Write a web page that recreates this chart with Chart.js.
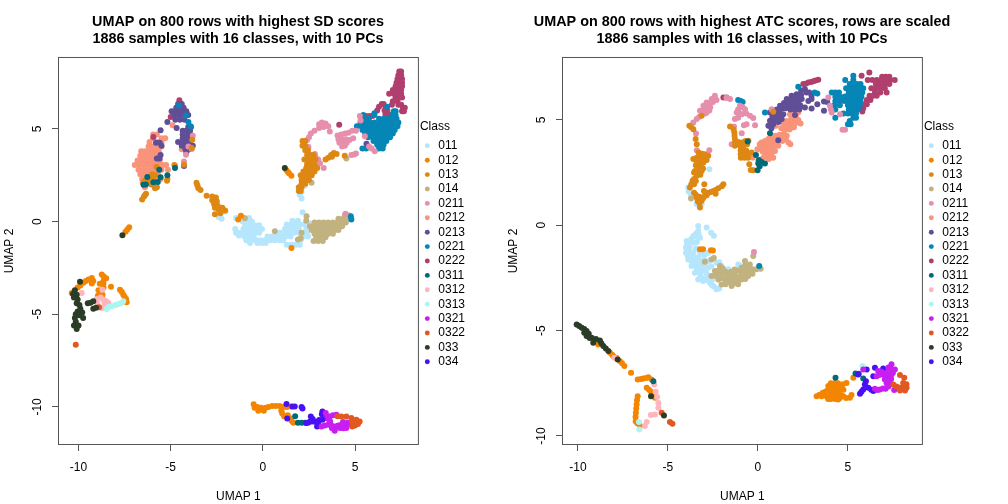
<!DOCTYPE html>
<html>
<head>
    <title>UMAP plots</title>
    <style>
        body { margin: 0; background: white; width: 1008px; height: 504px; overflow: hidden; display: flex; }
        canvas { display: block; }
    </style>
</head>
<body>
    <canvas id="sdChart" width="504" height="504"></canvas>
    <canvas id="atcChart" width="504" height="504"></canvas>

    <script src="https://cdn.jsdelivr.net/npm/chart.js"></script>
    <script>
        const classes = ['011', '012', '013', '014', '0211', '0212', '0213', '0221', '0222', '0311', '0312', '0313', '0321', '0322', '033', '034'];
        const classColors = ['#b6e6fd', '#f48500', '#de8814', '#c2b280', '#e68fac', '#f99379', '#604e97', '#0586b6', '#b03f6e', '#006a78', '#ffb5bd', '#adf5ef', '#c81ff0', '#e25822', '#2b3d26', '#4a10f5'];
        // bottom layer first
        const drawRank = ['011', '014', '0212', '0222', '0213', '0221', '0211', '013', '012', '0312', '0313', '0311', '034', '0321', '0322', '033'];

        const xTicksLeft = [-10, -5, 0, 5];
        const yTicksLeft = [-10, -5, 0, 5];
        const xTicksRight = [-10, -5, 0, 5];
        const yTicksRight = [-10, -5, 0, 5];

        const xRangeLeft = [-11.06, 8.41];
        const yRangeLeft = [-12.0, 8.83];
        const xRangeRight = [-10.83, 9.11];
        const yRangeRight = [-10.38, 7.94];

        // left panel
        const sd011 = [[-2.02,.54],[-2.24,.15],[-2.4,.25],[-1.42,-.6],[-1.3,-.75],[-1.46,.2],[-1,.2],[-.75,.2],[-1.1,0],[-.85,0],[-.6,0],[-.95,-.2],[-.7,-.2],[-.45,-.2],[-.2,-.2],[-1.5,-.4],[-1.05,-.4],[-.8,-.4],[-.55,-.4],[-.3,-.4],[-.05,-.4],[1.2,-.4],[1.45,-.4],[1.7,-.4],[1.95,-.4],[2.35,-.4],[1.3,-.15],[1.55,-.15],[1.8,-.15],[2.05,-.15],[2.3,-.15],[2.55,-.1],[1.6,.05],[1.9,.05],[-1.45,-.6],[-1.2,-.6],[-.95,-.6],[-.7,-.6],[-.45,-.6],[-.2,-.6],[.95,-.6],[1.2,-.6],[1.45,-.6],[1.7,-.6],[1.95,-.6],[2.4,-.6],[-1,-.8],[-.75,-.8],[-.5,-.8],[.25,-.8],[.5,-.8],[.75,-.8],[1,-.8],[1.25,-.8],[1.5,-.8],[2.2,-.8],[2.45,-.8],[-.9,-1],[-.6,-1],[-.35,-1],[-.1,-1],[.15,-1],[.4,-1],[.65,-1],[.9,-1],[1.1,-1],[2.05,-1],[-.7,-1.15],[-.3,-1.15],[-.05,-1.15],[.15,-1.15],[1.3,-1.25],[1.55,-1.25],[1.8,-1.25],[2,-1.25],[2.15,.5],[2.28,1.94],[2.1,1.6],[2,1.45],[2.1,1.25]];
        const sd012 = [[-7.25,-.3],[-7.35,-.42],[-7.45,-.55],[-10.37,-3.85],[-10.05,-3.55],[-9.9,-3.45],[-9.74,-3.3],[-9.6,-3.2],[-9.46,-3.13],[-9.28,-3.04],[-9.2,-3.2],[-9.28,-3.34],[-8.74,-2.86],[-8.65,-2.95],[-8.5,-3.05],[-8.65,-3.2],[-8.65,-3.35],[-8.85,-3.35],[-8.24,-3.52],[-8.92,-3.7],[-8.65,-3.55],[-8.95,-4],[-8.83,-4.05],[-8.7,-3.95],[-7.75,-3.67],[-7.65,-3.8],[-7.57,-3.94],[-7.5,-4.05],[-7.42,-4.17],[-7.39,-4.35],[1.28,2.77],[1.36,2.68],[1.43,2.59],[1.55,2.48],[-1.19,.32],[-1.34,.11],[1.55,-1.42],[-.5,-9.85],[-.45,-10.05],[-.3,-10],[-.25,-10.2],[-.1,-10.05],[.05,-10.2],[.15,-10.05],[.3,-10],[.5,-9.95],[.7,-9.95],[.9,-9.95],[1.1,-10],[1.3,-10],[1.5,-9.98],[1,-10.2],[1.05,-10.35],[1.15,-10.5],[1.35,-10.45],[1.45,-10.6],[1.55,-10.75],[1.65,-10.85]];
        const sd013 = [[-3.83,4.42],[-3.86,3.97],[-4.77,3.02],[-5.76,2.95],[-6,2.55],[-5.85,2.5],[-6.1,2.4],[-5.95,2.3],[-6.2,2.1],[-6.05,2],[-5.9,1.95],[-5.75,1.85],[-5.85,1.8],[-5.18,2.3],[-5.2,2.2],[-4.8,3.05],[-6.4,2.2],[-6.5,2.1],[-4.28,3.07],[-6.34,1.5],[-6.45,1.35],[-6.55,1.2],[-6.4,1.42],[-3.6,2.1],[-3.55,1.95],[-3.5,1.8],[-3.38,1.7],[-3.05,1.4],[-2.75,1.35],[-2.55,1.3],[-2.75,1.15],[-2.5,1.1],[-2.65,.95],[-2.45,.85],[-2.6,.75],[-2.4,.65],[-2.2,.75],[-2.05,.6],[-2.6,.4],[-2.3,.45],[2.15,4.35],[2.3,4.35],[2.15,4.1],[2.3,4.1],[2.3,3.85],[2.45,3.85],[2.4,3.6],[2.6,3.6],[2.75,3.6],[2.25,3.35],[2.45,3.35],[2.65,3.35],[2.85,3.35],[2.4,3.1],[2.6,3.1],[2.8,3.1],[2.35,2.9],[2.55,2.9],[2.75,2.9],[2.95,2.9],[2.2,2.7],[2.4,2.7],[2.6,2.7],[2.8,2.7],[2.05,2.5],[2.25,2.5],[2.45,2.5],[2.65,2.5],[2.1,2.25],[2.3,2.25],[2.5,2.25],[2.1,2.05],[2.3,2.05],[1.95,1.85],[2.1,1.85],[1.95,1.65],[2.05,1.65],[3.4,3.35],[3.55,3.45],[3.7,3.6],[3.85,3.7],[4,3.65],[3.75,3.5],[4.44,3.55]];
        const sd014 = [[4.53,3.4],[2.64,2.1],[2.37,.29],[2.35,.05],[4.45,.35],[4.65,.35],[4.1,.15],[4.35,.15],[4.6,.15],[2.8,-.05],[3.05,-.05],[3.3,-.05],[3.55,-.05],[3.8,-.05],[4.05,-.05],[4.3,-.05],[4.5,-.05],[2.55,-.25],[2.8,-.25],[3.05,-.25],[3.3,-.25],[3.55,-.25],[3.8,-.25],[4.05,-.25],[4.3,-.25],[2.65,-.45],[2.9,-.45],[3.15,-.45],[3.4,-.45],[3.65,-.45],[3.9,-.45],[4.1,-.45],[2.8,-.65],[3.05,-.65],[3.3,-.65],[3.55,-.65],[3.8,-.65],[2.9,-.85],[3.15,-.85],[3.4,-.85],[2.75,-1.05],[3,-1.05],[3.25,-1.05],[2.1,-.6],[1.9,-.97],[2.05,-.9],[.65,-.52],[-.98,.18]];
        const sd0211 = [[-3.8,4.64],[-4.04,4.06],[-4.17,3.61],[-4.28,3.25],[-3.86,3.92],[3.05,5.25],[3.2,5.35],[3.4,5.3],[3.55,5.15],[3.3,5.1],[3.05,5.05],[2.8,4.9],[2.6,4.75],[2.5,4.55],[2.4,4.4],[3.63,4.86],[4.05,4.65],[4.25,4.7],[4.45,4.75],[4.65,4.8],[4.85,4.9],[5.05,4.9],[4.1,4.45],[4.3,4.45],[4.5,4.45],[4.7,4.4],[4.9,4.5],[4.15,4.25],[4.35,4.25],[4.55,4.25],[4.3,4.05],[4.45,4.1],[5.26,5.7],[5.3,5.45],[4.8,3.6],[5.05,3.67],[4.95,3.62],[5.53,4.6],[5.76,4.05],[5.9,3.95],[6.07,3.8],[2.47,4.03],[2.82,3.65],[2.85,3.5],[3,3.35],[3.1,3.15],[3.3,2.9],[4.48,.43]];
        const sd0212 = [[-5.95,4.7],[-5.75,4.7],[-5.95,4.5],[-5.5,4.5],[-5.3,4.5],[-6.15,4.3],[-5.7,4.3],[-5.5,4.3],[-6.2,4.05],[-6,4.05],[-5.75,4.05],[-5.5,4.05],[-6.6,3.8],[-6.4,3.8],[-6.15,3.8],[-5.9,3.8],[-5.65,3.8],[-6.65,3.55],[-6.4,3.55],[-6.15,3.55],[-5.95,3.55],[-5.75,3.55],[-6.8,3.3],[-6.55,3.3],[-6.3,3.3],[-6.05,3.3],[-5.8,3.3],[-5.6,3.3],[-6.95,3.05],[-6.7,3.05],[-6.45,3.05],[-6.2,3.05],[-5.95,3.05],[-5.7,3.05],[-5.45,3.05],[-5.25,3.05],[-6.75,2.8],[-6.5,2.8],[-6.25,2.8],[-6,2.8],[-5.75,2.8],[-5.5,2.8],[-5.15,2.8],[-6.65,2.55],[-6.4,2.55],[-6.15,2.55],[-5.95,2.55],[-5.7,2.55],[-6.55,2.3],[-6.3,2.3],[-5.85,2.3],[-5.55,2.3],[-6.4,2.05],[-5.85,2.05],[-6.4,1.85],[-4.9,5.2],[-4.4,3.9]];
        const sd0213 = [[-4.6,6.35],[-4.4,6.35],[-4.7,6.15],[-4.5,6.15],[-4.3,6.15],[-4.95,5.95],[-4.7,5.95],[-4.5,5.95],[-4.3,5.95],[-4.15,5.95],[-4.8,5.75],[-4.55,5.75],[-4.3,5.75],[-4.05,5.75],[-4.75,5.5],[-4.5,5.5],[-4.25,5.5],[-5.18,5.38],[-4.68,5.05],[-4.05,5.1],[-3.9,5.1],[-4.35,4.9],[-4.15,4.9],[-3.95,4.9],[-4.35,4.7],[-4.15,4.7],[-3.95,4.7],[-4.35,4.5],[-4.15,4.5],[-3.95,4.5],[-4.6,4.3],[-4.35,4.3],[-4.15,4.3],[-3.95,4.3],[-4.4,4.1],[-4.2,4.1],[-3.8,4.1],[-4.2,3.9],[-4,3.9],[-4.15,3.75],[-4.28,3],[-5.55,4.93],[-5.8,4.25],[-5.6,4.25],[-5.5,4.1],[-5.55,3.6],[-5.75,3.4],[-5.6,3.4],[6.07,4.6],[5.62,4.2]];
        const sd0221 = [[-4.55,6.26],[-4.17,5.72],[-4.04,5.38],[-3.92,5.14],[6.05,5.85],[6.74,6.2],[7.1,5.95],[7.2,5.95],[5.45,5.75],[6.05,5.75],[7,5.75],[7.2,5.75],[5.5,5.55],[5.75,5.55],[6.3,5.55],[6.55,5.55],[6.8,5.55],[7.05,5.55],[7.25,5.55],[5.3,5.35],[5.55,5.35],[5.8,5.35],[6.05,5.35],[6.3,5.35],[6.55,5.35],[6.8,5.35],[7.05,5.35],[7.35,5.35],[5.1,5.15],[5.35,5.15],[5.6,5.15],[5.85,5.15],[6.1,5.15],[6.35,5.15],[6.6,5.15],[6.85,5.15],[7.1,5.15],[7.3,5.15],[5.4,4.95],[5.65,4.95],[5.9,4.95],[6.15,4.95],[6.4,4.95],[6.65,4.95],[6.9,4.95],[7.15,4.95],[5.55,4.75],[5.8,4.75],[6.05,4.75],[6.3,4.75],[6.55,4.75],[6.8,4.75],[7.05,4.75],[5.7,4.55],[5.95,4.55],[6.2,4.55],[6.45,4.55],[6.7,4.55],[6.9,4.55],[6,4.35],[6.25,4.35],[6.5,4.35],[6.7,4.35],[6.2,4.15],[6.45,4.15],[6.55,4.15],[5.4,3.95],[5.6,3.95],[6.3,3.95],[6.5,3.95],[4.77,.29],[4.8,.11]];
        const sd0222 = [[-4.53,6.55],[-4.71,6],[-5,5.65],[-5.94,4.57],[7.4,8.1],[7.5,8.1],[7.35,7.9],[7.5,7.9],[7.3,7.7],[7.45,7.7],[7.55,7.7],[7.25,7.5],[7.4,7.5],[7.55,7.5],[7.2,7.3],[7.35,7.3],[7.55,7.3],[7.05,7.1],[7.2,7.1],[7.35,7.1],[7.5,7.1],[6.85,6.9],[7.1,6.9],[7.3,6.9],[7.5,6.9],[7.2,6.7],[7.4,6.7],[7.55,6.7],[7.05,6.5],[7.3,6.5],[7,6.3],[7.35,6.3],[7.5,6.3],[7.6,6.15],[7.7,6.15],[7.55,5.95],[7.65,5.95],[6.45,6.35],[6.55,6.35],[6.3,6.2],[6.65,6.2],[6.2,6],[6.75,6],[6.6,6],[6.65,5.8],[6.8,5.8],[5.6,5.7],[5.8,5.7],[5.95,5.7],[4.14,5.23]];
        const sd0311 = [[-4.77,2.9],[-5.62,2.8],[-5.18,2.5],[-5.55,2.39],[-6.27,2.41],[-6.48,1.99],[-6.35,2],[-5.7,2.14],[-5.94,2.12],[1.75,-10.5],[1.9,-10.85],[2.1,-10.85],[2.3,-10.85],[2.45,-10.85]];
        const sd0312 = [[-9.83,-3.85],[-8.7,-3.67],[-9.01,-4.17],[-8.8,-4.1],[-8.65,-4.21],[-8.5,-4.3],[-8.38,-4.39],[-8.98,-4.39],[-8.74,-4.66],[-8.6,-4.45]];
        const sd0313 = [[-8.47,-4.71],[-8.35,-4.6],[-8.2,-4.57],[-8,-4.5],[-7.84,-4.44],[-7.7,-4.4],[-7.57,-4.3]];
        const sd0321 = [[3.41,-10.33],[3.5,-10.5],[3.63,-10.51],[3.8,-10.45],[3.99,-10.42],[3.18,-11.05],[3.35,-11],[3.54,-10.96],[3.72,-11],[3.9,-11.05],[4.08,-11],[4.26,-10.96],[4.45,-10.96],[4.62,-10.96],[3.9,-11.28],[3.75,-11.15],[4.17,-11.14],[4.53,-11.14],[4.35,-11.15],[3.65,-10.78],[3.55,-10.65],[4.35,-10.81],[4.6,-10.85]];
        const sd0322 = [[-8.89,-4.62],[-10.15,-6.64],[4.05,-10.5],[4.26,-10.51],[4.53,-10.51],[4.8,-10.6],[5.07,-10.69],[5.25,-10.78],[5.16,-10.92],[5,-11],[4.85,-11.05],[4.85,-10.8]];
        const sd033 = [[-7.62,-.74],[1.19,2.9],[-10.2,-3.7],[-10.3,-3.9],[-10.1,-3.95],[-10.25,-4.1],[-10.05,-4.2],[-10.1,-4.4],[-9.95,-4.5],[-9.9,-4.7],[-10.05,-4.85],[-9.8,-4.9],[-10.15,-5],[-9.95,-5.05],[-9.75,-5.2],[-10.2,-5.2],[-10.15,-5.4],[-10.25,-5.6],[-10.1,-5.8],[-10,-5.6],[-9.92,-3.25],[-9.5,-4.4],[-9.35,-4.38],[-9.2,-4.3],[-9.2,-4.7],[-9.05,-4.65]];
        const sd034 = [[1.73,-9.97],[1.6,-9.98],[2.15,-10.09],[2.1,-10],[1.28,-9.84],[1.32,-10.63],[2.6,-10.51],[2.7,-10.65],[2.72,-10.78],[2.55,-10.8],[2.36,-10.87],[2.85,-10.8],[3,-10.87],[3.23,-10.24],[3.2,-10.4],[3.23,-10.69],[3.05,-10.7],[3.45,-10.6],[2.94,-11.05]];

        // right panel
        const atc011 = [[-2.7,2.66],[-3.87,1.79],[-3.85,1.6],[-3.72,1.45],[-3.4,1],[-3.13,1],[-3.32,-.03],[-3.32,-.27],[-2.85,-.11],[-2.6,-.35],[-2.45,-.5],[-3.59,-.51],[-3.4,-.55],[-3.22,-.59],[-3.96,-.75],[-3.75,-.8],[-3.59,-.83],[-3.4,-.8],[-4,-1.06],[-3.8,-1.05],[-4,-1.3],[-3.78,-1.3],[-3.6,-1.3],[-3.87,-1.62],[-3.7,-1.55],[-3.5,-1.54],[-3.3,-1.5],[-3.13,-1.38],[-2.95,-1.4],[-2.76,-1.3],[-3.69,-1.93],[-3.5,-1.9],[-3.32,-1.86],[-3.13,-1.85],[-2.94,-1.86],[-2.75,-1.7],[-3.5,-2.25],[-3.3,-2.2],[-3.13,-2.17],[-2.95,-2.15],[-2.76,-2.01],[-2.6,-1.95],[-2.3,-1.78],[-2.02,-1.93],[-2.15,-1.75],[-3.32,-2.57],[-3.1,-2.5],[-2.94,-2.57],[-2.75,-2.45],[-2.67,-2.73],[-2.45,-2.9],[-2.3,-3.04],[-2.15,-3],[-1.65,-2.09],[-1.09,-1.86],[-.95,-1.95],[-3.95,-.95],[-3.9,-1.45],[-3.7,-1.7],[-3.4,-1.7],[-3.2,-1.7],[-3,-1.65],[-3.4,-2.05],[-3.2,-2.05],[-3,-2],[-2.85,-2.3],[-3.2,-2.35],[-3.45,-1.1],[-3.25,-1.25],[-3.05,-2.65],[-2.85,-2.6],[-2.55,-2.6],[-2.55,-2.85],[-3.7,-.65],[-3.45,-.4],[-3.3,-.4]];
        const atc012 = [[-3.22,-1.14],[-3.05,-1.14],[-2.61,-1.19],[-2.5,-1.2],[-8.87,-5.66],[-8.22,-6.05],[-8.1,-6.15],[-8.03,-6.21],[-7.85,-6.3],[-7.66,-6.45],[-7.55,-6.55],[-7.42,-6.68],[-7.05,-7],[-6.68,-7.32],[-6.5,-7.3],[-6.37,-7.27],[-6.2,-7.25],[-6.09,-7.21],[-5.91,-7.32],[-6.18,-7.71],[-6.05,-7.8],[-5.94,-7.9],[-5.85,-8.05],[-5.72,-8.19],[-6.68,-8.11],[-6.72,-8.3],[-6.74,-8.5],[-6.76,-8.7],[-6.78,-8.9],[-6.8,-9.1],[-6.79,-9.3],[-6.7,-9.4],[-6.55,-9.53],[3.26,-8.11],[3.4,-8.05],[3.54,-8.11],[3.7,-8.05],[3.81,-8.11],[4,-8.05],[4,-7.87],[3.85,-7.85],[3.91,-7.63],[4.1,-7.65],[4.28,-7.48],[4.28,-7.79],[4.15,-7.9],[4.45,-7.85],[4.55,-7.63],[4.72,-7.55],[4.92,-7.48],[4.18,-8.19],[4.3,-8.05],[4.46,-8.27],[4.6,-8.05],[4.74,-8.11],[5.3,-7.24],[5.11,-8.19],[5.2,-8.05],[3.6,-7.95],[3.75,-7.9],[4.05,-7.5],[4.45,-7.5],[4.4,-7.65],[4.15,-7.7],[4.6,-7.75],[4.75,-7.8],[3.9,-8.25],[4.05,-8.25],[4.55,-8.2],[4.9,-8.2],[4.3,-8.25]];
        const atc013 = [[-3.81,4.72],[-3.7,4.65],[-3.59,4.56],[-3.46,4.09],[-3.4,3.85],[-1.55,4.69],[-1.35,4.55],[-1.31,4.4],[-1.3,4.25],[-1.28,4.09],[-1.28,3.9],[-1.28,3.77],[-1.1,3.85],[-.9,3.93],[-.7,4],[-.53,4.01],[-.81,3.61],[-.96,3.55],[-.96,3.37],[-.8,3.4],[-.63,3.37],[-.5,3.4],[-.35,3.45],[-.48,2.9],[-.26,2.61],[-.4,2.62],[-2.94,3.37],[-3.22,3.3],[-3.4,3.2],[-3.59,3.14],[-2.76,3.3],[-3.1,3.15],[-3.31,2.9],[-3.15,2.95],[-3.03,2.98],[-2.85,3.1],[-3.5,2.58],[-3.3,2.65],[-3.13,2.58],[-3.4,2.35],[-3.2,2.4],[-3.55,2.2],[-3.63,2.11],[-3.7,1.95],[-3.78,1.79],[-2.98,1.95],[-1.92,1.95],[-2,1.85],[-2.2,1.76],[-2.35,1.68],[-2.48,1.63],[-2.62,1.58],[-2.76,1.55],[-3,1.63],[-2.85,1.42],[-2.94,1.4],[-3.05,1.28],[-3.13,1.16],[-3.4,1.32],[-3.25,1.35],[-3.55,1.55],[-3.22,.84],[.85,5.39],[-3.13,5.2],[-3.55,2.5],[-3.4,2.55],[-3.3,2.45],[-3.05,2.7],[-3.2,2.8],[-3.45,2.85],[-3.45,3.1],[-3.2,3],[-3,3.25],[-3.3,3.45],[-3.1,3.4],[-3.55,1.95],[-3.45,2.1],[-.95,3.2],[-.75,3.2],[-.55,3.2],[-1.1,3.95],[-.8,3.8],[-.6,3.85],[-.65,3.55],[-.95,3.7],[-2.9,1.55],[-2.35,1.5],[-3.25,1.05],[-3.35,1.15],[-3.45,1.45]];
        const atc014 = [[-3.72,1.27],[-2.58,-1.62],[-2.45,-1.55],[-2.95,-1.73],[-.72,-1.7],[-.45,-1.86],[-.7,-1.9],[-.91,-2.01],[-.54,-2.09],[-.3,-2.09],[-.08,-2.09],[.15,-2.06],[-1.28,-2.25],[-1.1,-2.15],[-.91,-2.33],[-.7,-2.25],[-.54,-2.41],[-.3,-2.3],[-1.56,-2.41],[-1.35,-2.4],[-1.28,-2.57],[-1.1,-2.45],[-.91,-2.57],[-.7,-2.55],[-2.11,-1.93],[-1.95,-2.05],[-2.39,-2.17],[-2.2,-2.15],[-2.02,-2.25],[-1.8,-2.2],[-2.58,-2.41],[-2.38,-2.4],[-2.2,-2.57],[-2,-2.5],[-1.83,-2.57],[-1.65,-2.6],[-2.02,-2.81],[-1.8,-2.8],[-1.46,-2.88],[-1.3,-2.75],[-1.1,-2.8],[-.26,-1.46],[-1.5,-2.2],[-1.3,-2.1],[-.95,-2.15],[-.75,-2.05],[-.45,-2.2],[-.55,-1.9],[-1.6,-2.7],[-1.15,-2.65],[-.75,-2.4],[-1.45,-2.6],[-1.75,-2.4],[-2.15,-2.35]];
        const atc0211 = [[-2.39,6.15],[-2.57,5.99],[-2.3,5.95],[-2.85,5.83],[-2.65,5.8],[-3.03,5.67],[-2.65,5.6],[-2.85,5.6],[-3.22,5.43],[-3.05,5.45],[-2.94,5.3],[-3.4,5.04],[-3.25,5.15],[-3.59,4.88],[-1.55,5.99],[-1.75,6.05],[-1,5.67],[-.85,5.6],[-1.1,5.5],[-.72,5.51],[-1.18,5.35],[-1,5.3],[-.9,5.27],[-.65,5.3],[-.44,5.2],[-1.28,5.04],[-1.1,5.1],[-.26,5.09],[-.63,4.8],[-.78,4.75],[-.16,4.75],[-1.33,4.69],[-.9,4.37],[-3.44,4.36],[-3.4,3.56],[-2.7,3.56],[-1.46,3.85],[-3.26,2.95],[3.91,6.07],[4,5.67],[4.05,5.5],[4.1,5.35],[4.56,5.27],[4.7,4.53],[4.84,4.53],[.76,5.51],[-.22,-1.27],[-2.75,5.7],[-2.5,5.85],[-2.7,5.45],[-2.85,5.35]];
        const atc0212 = [[1.78,5.27],[2,5.3],[2.24,5.35],[1.85,5.05],[2.06,5.04],[2.25,5],[1.6,4.95],[1.69,4.8],[1.41,4.67],[1.6,4.65],[1.87,4.64],[2.37,4.83],[1,4.72],[1.6,4.25],[1.32,4.25],[.95,4.25],[.58,4.09],[.75,4.15],[.2,3.93],[.4,4],[.67,3.85],[.9,3.95],[1.13,3.77],[1.35,4],[1.69,3.93],[1.8,3.85],[.58,3.61],[.35,3.7],[.8,3.55],[.95,3.53],[.11,3.69],[.67,3.22],[.5,3.4],[.39,3.3],[-.03,3.61],[.02,3.06],[-.29,3.22],[1.2,4.05],[.85,4],[.7,3.4],[1.95,5.45],[2.1,5.2],[1.9,4.85],[2.1,4.85],[1.45,4.85],[1.3,4.6],[1.5,4.55],[1.75,4.55],[2,4.65],[1.45,4.35],[1.2,4.3],[1.05,4.05],[.45,3.85],[.6,3.9],[.8,3.75],[1,3.8],[.2,3.75],[.4,3.5],[.55,3.45],[.75,3.35],[.85,3.2],[.6,3.15],[.25,3.5],[1.55,4.1],[1.4,4.15],[.1,3.85],[.3,3.2]];
        const atc0213 = [[2.61,6.46],[2.4,6.4],[2.15,6.22],[2.4,6.2],[1.87,6.15],[1.6,5.99],[1.8,5.95],[2.06,5.91],[2.25,5.9],[2.43,5.99],[2.98,6.15],[2.98,5.99],[1.23,5.67],[1.4,5.55],[1.69,5.67],[1.9,5.7],[2.15,5.67],[2.35,5.7],[2.61,5.59],[2.98,5.54],[3.3,5.75],[3.67,5.88],[3.85,5.85],[3.67,5.43],[1.41,5.27],[1.2,5.4],[.95,5.27],[1.15,5.15],[.67,5.35],[2.06,5.24],[1.32,5.04],[1.15,4.9],[.67,4.96],[.85,4.95],[.85,4.8],[.58,4.72],[.75,4.6],[1.13,4.04],[5.67,5.64],[2.7,6.3],[2.3,6.05],[2,6.1],[1.7,5.85],[1.95,5.8],[2.2,5.8],[1.45,5.8],[1.55,5.55],[1.8,5.5],[2.05,5.5],[2.3,5.5],[1.05,5.5],[1,5.1],[.8,5.15],[.7,4.8],[2.8,5.9],[2.85,6.3]];
        const atc0221 = [[5.3,7.1],[4.85,6.9],[5.3,6.9],[5.1,6.7],[5.3,6.7],[5.5,6.7],[5.7,6.7],[4.9,6.5],[5.15,6.5],[5.4,6.5],[5.65,6.5],[5.85,6.5],[4.1,6.3],[4.3,6.3],[4.5,6.3],[5.05,6.3],[5.3,6.3],[5.55,6.3],[5.8,6.3],[4.3,6.1],[4.55,6.1],[4.8,6.1],[5.05,6.1],[5.3,6.1],[5.55,6.1],[5.75,6.1],[4.3,5.9],[4.55,5.9],[4.8,5.9],[5.05,5.9],[5.3,5.9],[5.55,5.9],[5.7,5.9],[4.25,5.7],[4.55,5.7],[5,5.7],[5.25,5.7],[5.5,5.7],[5.65,5.7],[4.3,5.5],[5.05,5.5],[5.3,5.5],[5.55,5.5],[4.75,5.3],[5,5.3],[5.25,5.3],[5.45,5.3],[4.3,5.1],[5.3,5.1],[5.45,5.1],[5.1,4.95],[5,4.8],[5.15,4.8],[2.24,6.57],[3.15,6.3],[3.3,6.25],[-1.1,5.95],[-.96,5.9],[-.85,5.85],[.39,5.35],[.07,-1.93]];
        const atc0222 = [[6.9,7.05],[7.1,7.05],[7.3,7.05],[6.19,7.25],[5.76,7.1],[6.1,6.9],[6.35,6.9],[6.6,6.9],[6.85,6.9],[7.1,6.9],[7.35,6.9],[7.6,6.9],[6.55,6.7],[6.8,6.7],[7.05,6.7],[7.3,6.7],[6.3,6.5],[6.55,6.5],[6.8,6.5],[7.05,6.5],[6.5,6.3],[6.8,6.3],[7.15,6.3],[6.2,6.15],[6.4,6.15],[6.6,6.15],[6.05,5.95],[6.25,5.95],[5.95,5.75],[6.05,5.75],[5.85,5.55],[5.8,5.4],[4.87,6.11],[3.35,6.91],[3.2,6.87],[3.08,6.83],[2.95,6.8],[2.8,6.78],[2.65,6.72],[2.52,6.7],[-1.92,6.07],[-1.75,6.07]];
        const atc0311 = [[.67,4.37],[-.57,3.98],[-.11,3.33],[.06,3.1],[.2,3],[.39,2.93],[.02,2.93],[-.02,2.61],[.1,2.8],[-5.81,-7.4],[4.31,-7.24],[5.42,-7.03],[5.6,-7.05],[5.85,-7.27]];
        const atc0312 = [[-5.76,-7.56],[-5.68,-7.9],[-5.6,-8.15],[-5.53,-8.43],[-5.53,-8.66],[-5.72,-8.98],[-5.95,-9],[-6.18,-9.33],[-6.28,-9.53],[-7.98,-6.29]];
        const atc0313 = [[-6.59,-9.69],[-6.61,-9.33],[5.81,-6.68]];
        const atc0321 = [[6.68,-6.92],[6.59,-7.16],[7.42,-6.6],[7.25,-6.75],[7.61,-6.84],[7.4,-6.85],[7.15,-7],[7.42,-7.08],[7.25,-7.2],[7.05,-7.32],[7.33,-7.48],[7.15,-7.5],[6.5,-7.76],[6.65,-7.82],[6.78,-7.79],[6.95,-7.75],[7.09,-7.76],[7.57,-7.82],[5.85,-6.84],[7,-7.1],[7.2,-7.35],[7.5,-7],[6.75,-7.1],[6.85,-6.95],[7.4,-7.3],[7.25,-7.65]];
        const atc0322 = [[-4.89,-9.33],[-4.75,-9.42],[-5.35,-8.9],[7.89,-7.11],[8.13,-7.24],[7.52,-7.56],[7.7,-7.65],[7.89,-7.71],[8.05,-7.7],[8.26,-7.71],[8.07,-7.48],[8.17,-7.84],[7.89,-7.84],[8.25,-7.55]];
        const atc033 = [[-10.07,-4.71],[-9.93,-4.78],[-9.79,-4.86],[-9.65,-4.92],[-9.52,-5.02],[-9.65,-5.1],[-9.4,-5.15],[-9.52,-5.26],[-9.24,-5.34],[-9.35,-5.35],[-9.15,-5.58],[-9,-5.4],[-8.78,-5.47],[-8.7,-5.6],[-8.59,-5.73],[-8.45,-5.85],[-8.31,-5.97],[-7.79,-6.37],[-5.22,-9.03],[-5.94,-8.11]];
        const atc034 = [[6.04,-6.84],[5.57,-7.08],[5.94,-7.56],[5.85,-7.79],[5.75,-7.9],[5.67,-8],[6.13,-7.71],[6.3,-7.8],[6.41,-7.87],[6.5,-6.76],[6.96,-6.8],[6.41,-7.16],[6,-7.4]];

        const sdPoints = [sd011, sd012, sd013, sd014, sd0211, sd0212, sd0213, sd0221, sd0222, sd0311, sd0312, sd0313, sd0321, sd0322, sd033, sd034];
        const atcPoints = [atc011, atc012, atc013, atc014, atc0211, atc0212, atc0213, atc0221, atc0222, atc0311, atc0312, atc0313, atc0321, atc0322, atc033, atc034];

        const boxPlugin = {
            id: 'box',
            afterLayout(chart) {
                // R centres the title over the plot box, not over the device
                chart.titleBlock.left = -14;
                chart.titleBlock.right = 490;
                chart.legend.left += 2;
            },
            afterDatasetsDraw(chart) {
                const a = chart.chartArea;
                const ctx = chart.ctx;
                ctx.save();
                ctx.strokeStyle = '#555';
                ctx.lineWidth = 1;
                ctx.strokeRect(a.left - 0.5, a.top - 0.5, a.right - a.left + 1, a.bottom - a.top + 1);
                ctx.restore();
            }
        };

        function drawPanel(id, titleLines, points, xRange, yRange, xTicks, yTicks) {
            const fontFamily = '"Liberation Sans", Arial, sans-serif';
            new Chart(document.getElementById(id), {
                type: 'scatter',
                data: {
                    datasets: classes.map((c, i) => ({
                        label: c,
                        data: points[i],
                        backgroundColor: classColors[i],
                        borderColor: classColors[i],
                        pointRadius: 3,
                        pointBorderWidth: 0,
                        order: classes.length - drawRank.indexOf(c)
                    }))
                },
                options: {
                    responsive: false,
                    animation: false,
                    layout: { padding: { right: 31 } },
                    plugins: {
                        tooltip: { enabled: false },
                        title: {
                            display: true,
                            text: titleLines,
                            color: '#000',
                            font: { family: fontFamily, size: 14.4, weight: 'bold', lineHeight: 1.18 },
                            padding: { top: 14, bottom: 10 }
                        },
                        legend: {
                            position: 'right',
                            align: 'start',
                            title: {
                                display: true,
                                text: 'Class',
                                position: 'start',
                                color: '#000',
                                font: { family: fontFamily, size: 12 },
                                padding: { top: 121, bottom: 2 }
                            },
                            labels: {
                                usePointStyle: true,
                                boxWidth: 10,
                                boxHeight: 3.5,
                                padding: 2.4,
                                color: '#000',
                                font: { family: fontFamily, size: 12 },
                                sort: (a, b) => a.datasetIndex - b.datasetIndex
                            }
                        }
                    },
                    scales: {
                        x: {
                            type: 'linear',
                            min: xRange[0],
                            max: xRange[1],
                            afterFit: s => { s.height = 60; },
                            afterBuildTicks: s => { s.ticks = xTicks.map(v => ({ value: v })); },
                            grid: { display: true, drawOnChartArea: false, tickLength: 7, color: '#555' },
                            border: { display: false },
                            ticks: { color: '#000', padding: 9, maxRotation: 0, font: { family: fontFamily, size: 12 } },
                            title: { display: true, text: 'UMAP 1', color: '#000', font: { family: fontFamily, size: 12 }, padding: { top: 0, bottom: 0 } }
                        },
                        y: {
                            type: 'linear',
                            min: yRange[0],
                            max: yRange[1],
                            afterFit: s => { s.width = 59; },
                            afterBuildTicks: s => { s.ticks = yTicks.map(v => ({ value: v })); },
                            grid: { display: true, drawOnChartArea: false, tickLength: 7, color: '#555' },
                            border: { display: false },
                            ticks: { color: '#000', padding: 6, minRotation: 90, maxRotation: 90, crossAlign: 'center', font: { family: fontFamily, size: 12 } },
                            title: { display: true, text: 'UMAP 2', color: '#000', font: { family: fontFamily, size: 12 }, padding: { top: 2, bottom: 0 } }
                        }
                    }
                },
                plugins: [boxPlugin]
            });
        }

        drawPanel('sdChart', ['UMAP on 800 rows with highest SD scores', '1886 samples with 16 classes, with 10 PCs'], sdPoints, xRangeLeft, yRangeLeft, xTicksLeft, yTicksLeft);
        drawPanel('atcChart', ['UMAP on 800 rows with highest ATC scores, rows are scaled', '1886 samples with 16 classes, with 10 PCs'], atcPoints, xRangeRight, yRangeRight, xTicksRight, yTicksRight);
    </script>
</body>
</html>
